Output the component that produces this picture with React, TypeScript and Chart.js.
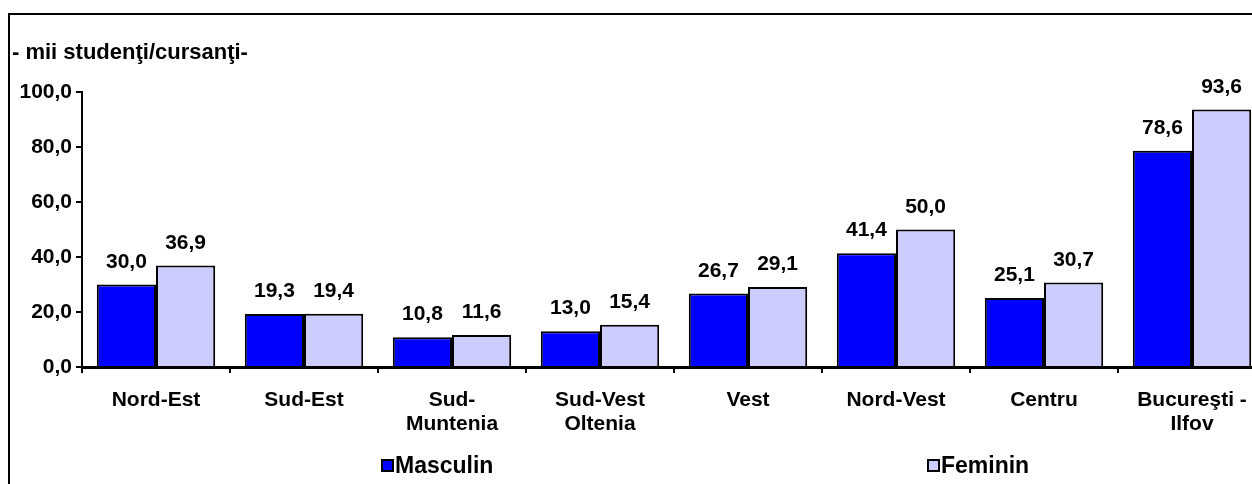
import React, { useEffect, useRef } from "react";
import { Chart, registerables } from "chart.js";

Chart.register(...registerables);

const categories: (string | string[])[] = [
  "Nord-Est",
  "Sud-Est",
  ["Sud-", "Muntenia"],
  ["Sud-Vest", "Oltenia"],
  "Vest",
  "Nord-Vest",
  "Centru",
  ["Bucureşti -", "Ilfov"],
];
const masculin = [30.0, 19.3, 10.8, 13.0, 26.7, 41.4, 25.1, 78.6];
const feminin = [36.9, 19.4, 11.6, 15.4, 29.1, 50.0, 30.7, 93.6];
const seriesNames = ["Masculin", "Feminin"];
const unitLabel = "- mii studenţi/cursanţi-";
const yTicks = { min: 0, max: 100, step: 20 };

const FONT = "'Liberation Sans', Arial, sans-serif";
const fmt = (v: number) => v.toFixed(1).replace(".", ",");

export default function App() {
  const ref = useRef<HTMLCanvasElement | null>(null);

  useEffect(() => {
    document.documentElement.style.overflow = "hidden";
    document.body.style.overflow = "hidden";
    const canvas = ref.current!;
    const extras = {
      id: "extras",
      afterDatasetsDraw(chart: any) {
        const ctx = chart.ctx;
        ctx.save();
        ctx.fillStyle = "#000";
        ctx.font = `bold 21px ${FONT}`;
        ctx.textAlign = "center";
        ctx.textBaseline = "alphabetic";
        chart.data.datasets.forEach((ds: any, di: number) => {
          const meta = chart.getDatasetMeta(di);
          meta.data.forEach((el: any, i: number) => {
            ctx.fillText(fmt(ds.data[i]), el.x, el.y - 17);
          });
        });
        ctx.restore();
      },
      afterDraw(chart: any) {
        const ctx = chart.ctx;
        ctx.save();
        // frame
        ctx.strokeStyle = "#000";
        ctx.lineWidth = 2;
        ctx.strokeRect(9, 14, 1500, 800);
        // unit label
        ctx.fillStyle = "#000";
        ctx.font = `bold 22px ${FONT}`;
        ctx.textAlign = "left";
        ctx.textBaseline = "alphabetic";
        ctx.fillText(unitLabel, 12, 59);
        // legend
        const items = [
          { x: 382, color: "#0000FF", text: seriesNames[0] },
          { x: 928, color: "#CCCCFF", text: seriesNames[1] },
        ];
        ctx.font = `bold 23px ${FONT}`;
        items.forEach((it) => {
          ctx.fillStyle = it.color;
          ctx.fillRect(it.x, 460, 11, 11);
          ctx.strokeStyle = "#000";
          ctx.lineWidth = 2;
          ctx.strokeRect(it.x, 460, 11, 11);
          ctx.fillStyle = "#000";
          ctx.textBaseline = "middle";
          ctx.fillText(it.text, it.x + 13, 467);
        });
        ctx.restore();
      },
    };

    const chart = new Chart(canvas, {
      type: "bar",
      data: {
        labels: categories,
        datasets: [
          {
            label: seriesNames[0],
            data: masculin,
            backgroundColor: "#0000FF",
            borderColor: "#000000",
            borderWidth: 2,
            categoryPercentage: 0.8,
            barPercentage: 1.0,
          },
          {
            label: seriesNames[1],
            data: feminin,
            backgroundColor: "#CCCCFF",
            borderColor: "#000000",
            borderWidth: 2,
            categoryPercentage: 0.8,
            barPercentage: 1.0,
          },
        ],
      },
      options: {
        responsive: false,
        animation: false,
        layout: { padding: { top: 92, right: 9, left: 0, bottom: 0 } },
        plugins: {
          legend: { display: false },
          tooltip: { enabled: false },
          title: { display: false },
        },
        scales: {
          x: {
            grid: {
              display: true,
              drawOnChartArea: false,
              drawTicks: true,
              tickLength: 6,
              color: "#000",
              lineWidth: 2,
              offset: true,
            },
            border: { display: true, color: "#000", width: 3 },
            ticks: {
              color: "#000",
              font: { family: FONT, size: 21, weight: "bold", lineHeight: 1.15 },
              padding: 15,
              maxRotation: 0,
              autoSkip: false,
            },
            afterFit: (s: any) => {
              s.height = 117;
            },
          },
          y: {
            min: yTicks.min,
            max: yTicks.max,
            grid: {
              display: true,
              drawOnChartArea: false,
              drawTicks: true,
              tickLength: 6,
              color: "#000",
              lineWidth: 2,
            },
            border: { display: true, color: "#000", width: 2 },
            ticks: {
              stepSize: yTicks.step,
              color: "#000",
              font: { family: FONT, size: 21, weight: "bold" },
              padding: 4,
              callback: (v: any) => fmt(Number(v)),
            },
            afterFit: (s: any) => {
              s.width = 82;
            },
          },
        },
      },
      plugins: [extras],
    });
    return () => chart.destroy();
  }, []);

  return (
    <div style={{ position: "fixed", left: 0, top: 0, width: 1275, height: 484 }}>
      <canvas ref={ref} width={1275} height={484} style={{ display: "block" }} />
    </div>
  );
}
